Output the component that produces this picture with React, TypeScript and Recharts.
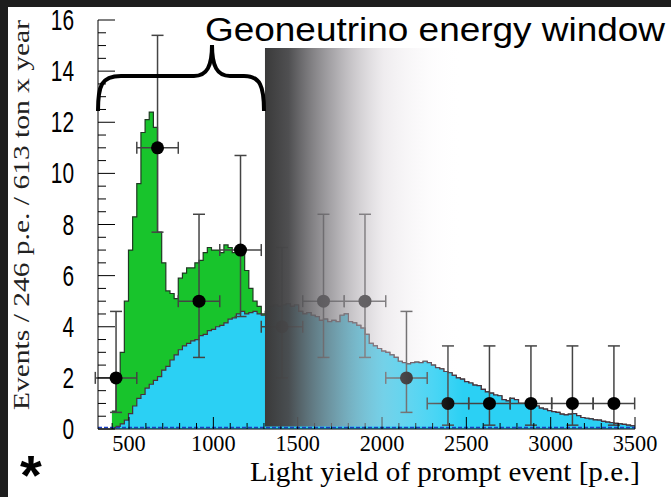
import React from 'react'
import {
  ComposedChart,
  Area,
  Scatter,
  ErrorBar,
  XAxis,
  YAxis,
  ReferenceArea,
  ReferenceLine,
} from 'recharts'

// fine histogram binning: 24.6 p.e. per bin (10 bins per data bin)
const binStart = 398.4
const binWidth = 24.6

// reactor anti-neutrino spectrum (cyan)
const reactor = [
  0.05, 0.1, 0.2, 0.35, 0.6, 0.9, 1.2, 1.35, 1.6, 1.75,
  1.9, 2.05, 2.3, 2.45, 2.7, 2.9, 3.1, 3.25, 3.35, 3.45,
  3.5, 3.65, 3.7, 3.85, 3.9, 4.0, 4.05, 4.15, 4.3, 4.35,
  4.5, 4.6, 4.5, 4.55, 4.6, 4.5, 4.45, 4.6, 4.8, 4.85,
  4.8, 4.85, 4.9, 4.8, 4.85, 4.6, 4.5, 4.55, 4.45, 4.4,
  4.25, 4.3, 4.2, 4.25, 4.2, 4.45, 4.5, 4.2, 4.15, 4.05,
  3.95, 3.7, 3.35, 3.25, 3.15, 3.05, 3.0, 2.9, 2.8, 2.65,
  2.6, 2.55, 2.6, 2.62, 2.6, 2.65, 2.6, 2.5, 2.4, 2.35,
  2.25, 2.2, 2.1, 2.0, 1.95, 1.85, 1.8, 1.72, 1.7, 1.55,
  1.45, 1.4, 1.33, 1.3, 1.15, 1.1, 1.2, 1.15, 1.0, 1.0,
  0.95, 0.92, 0.9, 0.82, 0.78, 0.72, 0.68, 0.65, 0.58, 0.55,
  0.58, 0.6, 0.52, 0.45, 0.42, 0.4, 0.36, 0.35, 0.3, 0.27,
  0.25, 0.22, 0.2, 0.18, 0.15, 0.12,
]

// geo + reactor total (top of the green), where the green is visible
const totalLow = [
  0.7, 2.0, 3.0, 5.0, 7.0, 8.3, 9.6, 11.6, 12.1, 12.4,
  11.8, 7.7, 6.5, 5.4, 5.3, 5.1, 5.9, 6.1, 6.3, 6.3,
  6.5, 6.6, 6.9, 7.1, 7.0, 7.0, 6.9, 7.2, 7.1, 6.9,
  6.9, 6.9, 6.2, 5.5, 5.0, 4.8, 4.5, 4.6,
]

// data points (246 p.e. bins)
const pointE = [423, 669, 915, 1161, 1407, 1653, 1899, 2145, 2391, 2637, 2883, 3129, 3375]
const pointN = [2, 11, 5, 7, 4, 5, 5, 2, 1, 1, 1, 1, 1]
const errLow = [1.35, 3.3, 2.2, 2.6, 2.0, 2.2, 2.2, 1.35, 0.85, 0.85, 0.85, 0.85, 0.85]
const errHigh = [2.6, 4.4, 3.4, 3.7, 3.1, 3.4, 3.4, 2.6, 2.25, 2.25, 2.25, 2.25, 2.25]

const xTicks = [
  400, 500, 600, 700, 800, 900, 1000, 1100, 1200, 1300, 1400, 1500, 1600, 1700, 1800, 1900,
  2000, 2100, 2200, 2300, 2400, 2500, 2600, 2700, 2800, 2900, 3000, 3100, 3200, 3300, 3400, 3500,
]
const yTicks = [
  0, 0.5, 1, 1.5, 2, 2.5, 3, 3.5, 4, 4.5, 5, 5.5, 6, 6.5, 7, 7.5, 8,
  8.5, 9, 9.5, 10, 10.5, 11, 11.5, 12, 12.5, 13, 13.5, 14, 14.5, 15, 15.5, 16,
]

const histRows = reactor.map((r, k) => ({
  x: binStart + k * binWidth,
  reactor: r,
  total: k < totalLow.length ? totalLow[k] : r,
}))
histRows.push({ ...histRows[histRows.length - 1], x: binStart + reactor.length * binWidth })

const points = pointE.map((e, i) => ({
  x: e,
  y: pointN[i],
  ex: [123, 123],
  ey: [errLow[i], errHigh[i]],
}))

const YTick = (props: any) => {
  const { x, y, payload } = props
  const v = payload.value
  const major = v % 2 === 0
  return (
    <g>
      <line x1={x} x2={x + (major ? 17 : 8)} y1={y} y2={y} stroke="#000" strokeWidth={1} />
      {major && (
        <text
          transform={`translate(${x - 24},${y + 10}) scale(0.72,1)`}
          textAnchor="end"
          fontFamily="'Liberation Sans', Arial, sans-serif"
          fontSize={29}
          fill="#000"
        >
          {v}
        </text>
      )}
    </g>
  )
}

const XTick = (props: any) => {
  const { x, y, payload } = props
  const v = payload.value
  const major = v % 500 === 0
  return (
    <g>
      <line x1={x} x2={x} y1={y} y2={y - (major ? 12 : 6)} stroke="#000" strokeWidth={1} />
      {major && (
        <text
          transform={`translate(${x},${y + 22}) scale(0.93,1)`}
          textAnchor="middle"
          fontFamily="'Liberation Serif', 'Times New Roman', serif"
          fontSize={24}
          fill="#000"
        >
          {v}
        </text>
      )}
    </g>
  )
}

const dot = (p: any) => <circle cx={p.cx} cy={p.cy} r={6.5} fill="#000" />

export default function App() {
  return (
    <div style={{ position: 'absolute', left: 0, top: 0, width: 671, height: 497, background: '#1e1e1e', overflow: 'hidden' }}>
      <div style={{ position: 'absolute', left: 8, top: 7, right: 0, bottom: 0, background: '#fff' }} />
      <div style={{ position: 'absolute', left: 0, top: 0 }}>
        <ComposedChart
          width={671}
          height={497}
          data={histRows}
          margin={{ top: 20, right: 36, left: 0, bottom: 0 }}
        >
          <defs>
            <linearGradient id="fade" x1="0" y1="0" x2="1" y2="0">
              <stop offset="0" stopColor="#3a3a3a" stopOpacity={1} />
              <stop offset="0.12" stopColor="#4a4a4c" stopOpacity={0.97} />
              <stop offset="0.35" stopColor="#8a878c" stopOpacity={0.72} />
              <stop offset="0.6" stopColor="#d8d2d8" stopOpacity={0.42} />
              <stop offset="0.85" stopColor="#f4f0f4" stopOpacity={0.16} />
              <stop offset="1" stopColor="#ffffff" stopOpacity={0} />
            </linearGradient>
          </defs>
          <XAxis
            type="number"
            dataKey="x"
            domain={[316, 3500]}
            ticks={xTicks}
            interval={0}
            tick={<XTick />}
            tickLine={false}
            tickSize={0}
            tickMargin={0}
            axisLine={{ stroke: '#000' }}
            height={68}
            allowDataOverflow
          />
          <YAxis
            type="number"
            domain={[0, 16]}
            ticks={yTicks}
            interval={0}
            tick={<YTick />}
            tickLine={false}
            tickSize={0}
            tickMargin={0}
            axisLine={{ stroke: '#000' }}
            width={98}
            allowDataOverflow
          />
          <Area
            type="stepAfter"
            dataKey="total"
            fill="#18c42c"
            fillOpacity={1}
            stroke="#1f3a22"
            strokeWidth={1.2}
            isAnimationActive={false}
          />
          <Area
            type="stepAfter"
            dataKey="reactor"
            fill="#2bd0f4"
            fillOpacity={1}
            stroke="#4a2f3c"
            strokeWidth={1.2}
            isAnimationActive={false}
          />
          <ReferenceLine y={0.06} stroke="#1b3fc4" strokeWidth={1.5} strokeDasharray="4 2" />
          <Scatter data={points} dataKey="y" shape={dot} isAnimationActive={false}>
            <ErrorBar dataKey="ex" direction="x" width={6} stroke="#444" strokeWidth={1.5} isAnimationActive={false} />
            <ErrorBar dataKey="ey" direction="y" width={6} stroke="#444" strokeWidth={1.5} isAnimationActive={false} />
          </Scatter>
          <ReferenceArea
            x1={1306}
            x2={2480}
            y1={0.1}
            y2={14.9}
            fill="url(#fade)"
            fillOpacity={1}
            stroke="none"
            ifOverflow="visible"
            zIndex={2000}
          />
        </ComposedChart>
      </div>
      <svg
        width={671}
        height={497}
        style={{ position: 'absolute', left: 0, top: 0, pointerEvents: 'none' }}
      >
        <text
          x={205}
          y={41}
          fontFamily="'Liberation Sans', Arial, sans-serif"
          fontSize={34}
          textLength={460}
          lengthAdjust="spacingAndGlyphs"
          fill="#000"
        >
          Geoneutrino energy window
        </text>
        <path
          d="M 98 111 C 98 86, 101 76, 121 76 L 194 76 C 207 76, 212 66, 212 45 C 212 66, 217 76, 230 76 L 244 76 C 260 76, 264 86, 264 111"
          fill="none"
          stroke="#000"
          strokeWidth={4}
        />
        <text
          transform="translate(29,215) rotate(-90)"
          textAnchor="middle"
          fontFamily="'Liberation Serif', 'Times New Roman', serif"
          fontSize={24}
          textLength={390}
          lengthAdjust="spacingAndGlyphs"
          fill="#222"
        >
          Events / 246 p.e. / 613 ton x year
        </text>
        <text
          x={445}
          y={481}
          textAnchor="middle"
          fontFamily="'Liberation Serif', 'Times New Roman', serif"
          fontSize={28}
          textLength={390}
          lengthAdjust="spacingAndGlyphs"
          fill="#000"
        >
          Light yield of prompt event [p.e.]
        </text>
        <text
          x={20}
          y={494}
          fontFamily="'Liberation Sans', Arial, sans-serif"
          fontWeight="bold"
          fontSize={56}
          fill="#000"
        >
          *
        </text>
      </svg>
    </div>
  )
}
